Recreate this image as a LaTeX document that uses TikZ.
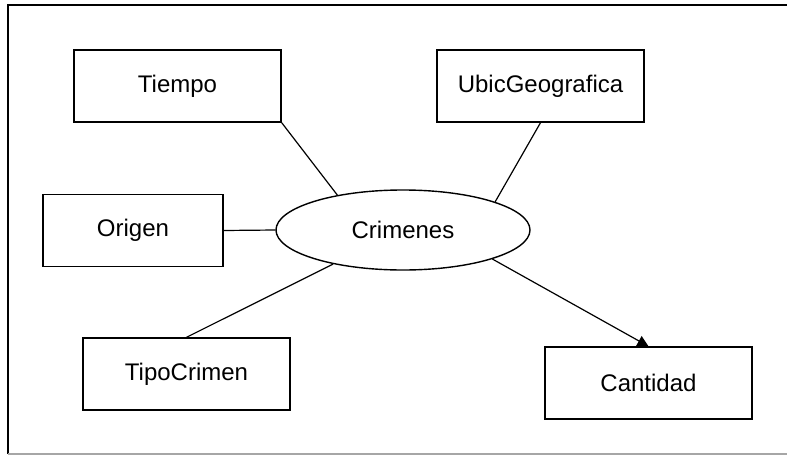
\documentclass[tikz,border=0pt]{standalone}
\usepackage{fontspec}
\setmainfont{Liberation Sans}
\usetikzlibrary{shapes.geometric,arrows.meta}
\begin{document}
\begin{tikzpicture}[x=1pt,y=-1pt,
    dim/.style={draw,line width=1.4pt,minimum width=207pt,minimum height=72pt,inner sep=0pt,font=\fontsize{24}{28}\selectfont},
    fact/.style={draw,ellipse,line width=1.4pt,minimum width=254pt,minimum height=80pt,inner sep=0pt,font=\fontsize{24}{28}\selectfont},
    link/.style={line width=1.2pt}]
    \useasboundingbox (0,0) rectangle (787,455);
    \draw[line width=1.6pt] (787,5)--(8,5)--(8,454);
    \draw[line width=1.6pt,color=gray!70] (8,454)--(787,454);
    \node[fact] (crimenes) at (403,230) {Crimenes};
    \node[dim] (tiempo) at (177.5,86) {Tiempo};
    \node[dim] (ubic) at (540.5,86) {UbicGeografica};
    \node[dim,minimum width=180pt] (origen) at (133,230.5) {Origen};
    \node[dim] (tipo) at (186.5,374) {TipoCrimen};
    \node[dim] (cantidad) at (648.5,383) {Cantidad};
    \draw[link] (tiempo.south east)--(crimenes.152);
    \draw[link] (ubic.south)--(crimenes.17);
    \draw[link] (origen.east)--(crimenes.west);
    \draw[link] (tipo.north)--(crimenes.206);
    \draw[link,-{Triangle[length=11pt,width=11pt]}] (crimenes.342)--(cantidad.north);
\end{tikzpicture}
\end{document}
